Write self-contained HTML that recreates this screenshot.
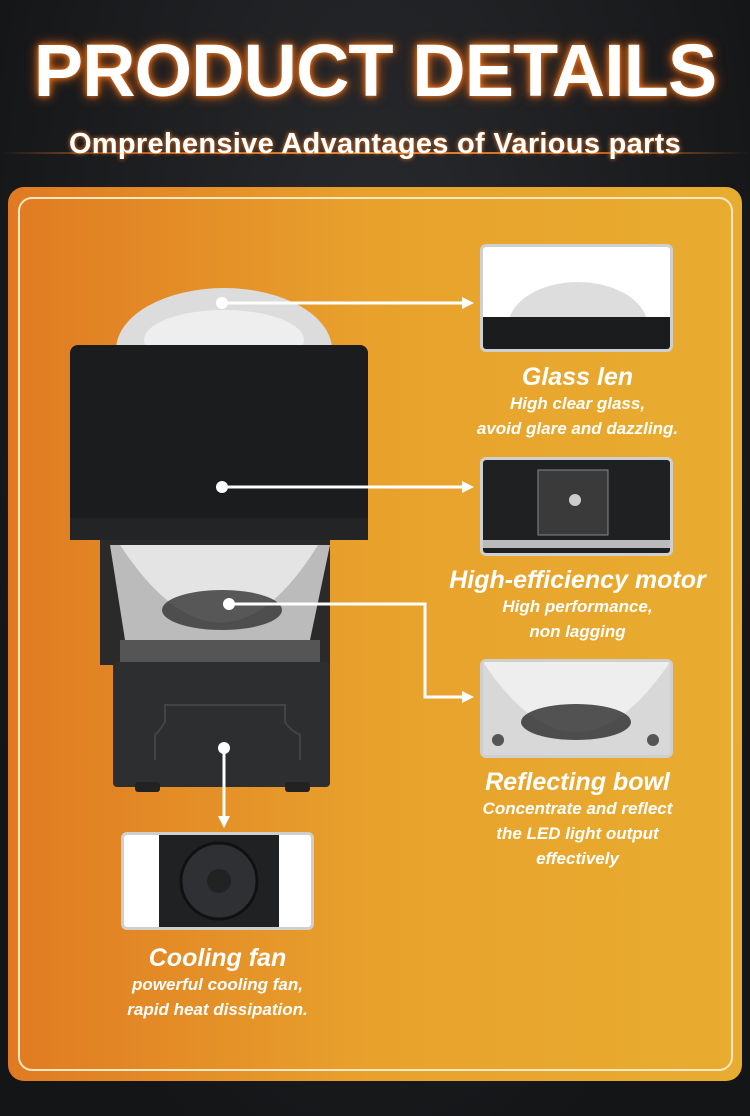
<!DOCTYPE html>
<html><head><meta charset="utf-8"><style>
*{margin:0;padding:0;box-sizing:border-box}
body{width:750px;height:1116px;background:radial-gradient(ellipse at 50% 30%,#2a2b2e,#141517 80%);position:relative;overflow:hidden;font-family:"Liberation Sans",sans-serif}
.h1{position:absolute;left:0;width:750px;top:28px;text-align:center;color:#fff;font-weight:bold;font-size:74px;letter-spacing:-1px;text-shadow:0 0 6px #f07a20,0 0 12px #e06010}
.line{position:absolute;left:0;width:750px;top:152px;height:2px;background:linear-gradient(90deg,transparent,#c8641c 20%,#f08a30 50%,#c8641c 80%,transparent)}
.h2{position:absolute;left:0;width:750px;top:128px;text-align:center;color:#fff;font-weight:bold;font-size:29px;letter-spacing:0.3px;text-shadow:0 0 5px #f07a20}
.panel{position:absolute;left:8px;top:187px;width:734px;height:894px;border-radius:16px;background:linear-gradient(90deg,#e07a22,#e8a22c 50%,#e8ac30)}
.inner{position:absolute;left:18px;top:197px;width:715px;height:874px;border:2px solid #fbe7c4;border-radius:14px}
.thumb{position:absolute;width:193px;background:#fff;border:3px solid #cfcfcf;border-radius:6px;overflow:hidden}
.t{position:absolute;color:#fff;font-style:italic;font-weight:bold;text-align:center;line-height:24px}
.t b{display:block;font-size:25px;line-height:30px}
.t span{font-size:17px}
</style></head><body>
<div class="h1">PRODUCT DETAILS</div>
<div class="line"></div>
<div class="h2">Omprehensive Advantages of Various parts</div>
<div class="panel"></div>
<div class="inner"></div>

<svg style="position:absolute;left:0;top:0" width="750" height="1116">
<ellipse cx="224" cy="350" rx="108" ry="62" fill="#dcdcdc"/>
<ellipse cx="224" cy="340" rx="80" ry="30" fill="#eee"/>
<rect x="100" y="535" width="230" height="130" fill="#2a2a2a"/>
<path d="M110 545 L330 545 L310 640 L125 640 Z" fill="#bbb"/>
<path d="M120 545 Q222 700 318 545 Z" fill="#e4e4e4"/>
<ellipse cx="222" cy="610" rx="60" ry="20" fill="#333" opacity=".8"/>
<rect x="120" y="640" width="200" height="25" fill="#555"/>
<rect x="113" y="662" width="217" height="125" rx="4" fill="#2c2e30"/>
<path d="M155 760 V735 Q160 730 165 722 V705 H285 V722 Q290 730 300 735 V760" fill="none" stroke="#444" stroke-width="2"/>
<rect x="135" y="782" width="25" height="10" rx="3" fill="#222"/><rect x="285" y="782" width="25" height="10" rx="3" fill="#222"/>
<rect x="70" y="345" width="298" height="195" rx="8" fill="#1a1c1e"/>
<rect x="70" y="518" width="298" height="22" fill="#222426"/>
<g stroke="#fff" stroke-width="3" fill="none">
<line x1="222" y1="303" x2="466" y2="303"/>
<line x1="222" y1="487" x2="466" y2="487"/>
<polyline points="229,604 425,604 425,697 466,697"/>
<line x1="224" y1="748" x2="224" y2="820"/>
</g>
<g fill="#fff">
<circle cx="222" cy="303" r="6"/><circle cx="222" cy="487" r="6"/><circle cx="229" cy="604" r="6"/><circle cx="224" cy="748" r="6"/>
<path d="M474 303 L462 297 L462 309Z"/><path d="M474 487 L462 481 L462 493Z"/><path d="M474 697 L462 691 L462 703Z"/><path d="M224 828 L218 816 L230 816Z"/>
</g>
</svg>

<div class="thumb" style="left:480px;top:244px;height:108px">
<svg width="187" height="102"><ellipse cx="95" cy="80" rx="70" ry="45" fill="#ddd"/><rect x="0" y="70" width="187" height="32" fill="#1a1c1e"/></svg></div>
<div class="thumb" style="left:480px;top:457px;height:99px">
<svg width="187" height="93"><rect x="0" y="0" width="187" height="93" fill="#1e2022"/><rect x="55" y="10" width="70" height="65" fill="#3a3a3a" stroke="#888"/><circle cx="92" cy="40" r="6" fill="#ccc"/><rect x="0" y="80" width="187" height="8" fill="#bbb"/></svg></div>
<div class="thumb" style="left:480px;top:659px;height:99px">
<svg width="187" height="93"><rect width="187" height="93" fill="#d8d8d8"/><path d="M0 0 Q93 140 187 0" fill="#eee"/><ellipse cx="93" cy="60" rx="55" ry="18" fill="#2a2a2a" opacity=".8"/><circle cx="15" cy="78" r="6" fill="#555"/><circle cx="170" cy="78" r="6" fill="#555"/></svg></div>
<div class="thumb" style="left:121px;top:832px;height:98px">
<svg width="188" height="92"><rect x="35" y="0" width="120" height="92" fill="#1f2123"/><circle cx="95" cy="46" r="38" fill="#2e3033" stroke="#111" stroke-width="3"/><circle cx="95" cy="46" r="12" fill="#222"/></svg></div>

<div class="t" style="left:430px;width:295px;top:362px"><b>Glass len</b><span>High clear glass,<br>avoid glare and dazzling.</span></div>
<div class="t" style="left:420px;width:315px;top:565px"><b>High-efficiency motor</b><span>High performance,<br>non lagging</span></div>
<div class="t" style="left:430px;width:295px;top:767px"><b>Reflecting bowl</b><span>Concentrate and reflect<br>the LED light output<br>effectively</span></div>
<div class="t" style="left:70px;width:295px;top:943px"><b>Cooling fan</b><span>powerful cooling fan,<br>rapid heat dissipation.</span></div>
</body></html>
